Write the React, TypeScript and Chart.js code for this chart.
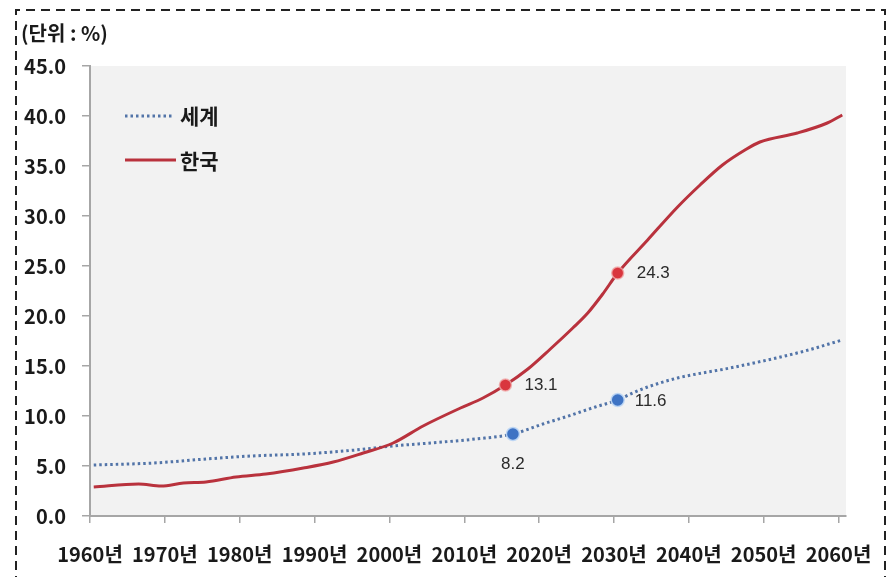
import React, { useEffect, useRef } from "react";
import { Chart, registerables } from "chart.js";

Chart.register(...registerables);

// ---- data ----
const koreaYears = [1960, 1966, 1969, 1972, 1975, 1979, 1983, 1988, 1992, 1996, 2000, 2004, 2009, 2012, 2015, 2018, 2021, 2024, 2026, 2028, 2030, 2034, 2038, 2041, 2044, 2047, 2049, 2054, 2058, 2060];
const koreaValues = [2.9, 3.2, 3.0, 3.3, 3.4, 3.9, 4.2, 4.8, 5.4, 6.3, 7.3, 9.0, 10.8, 11.8, 13.1, 14.7, 16.7, 18.8, 20.3, 22.2, 24.3, 27.6, 30.9, 33.1, 35.1, 36.6, 37.4, 38.3, 39.3, 40.1];

const worldYears = [1960, 1968, 1975, 1981, 1988, 1995, 2000, 2005, 2011, 2016, 2020, 2023, 2027, 2030, 2032, 2034, 2038, 2045, 2050, 2055, 2060];
const worldValues = [5.1, 5.3, 5.7, 6.0, 6.2, 6.6, 7.0, 7.3, 7.7, 8.2, 9.2, 9.9, 10.9, 11.6, 12.3, 12.9, 13.8, 14.8, 15.6, 16.5, 17.6];

const koreaMarkYears = [2015, 2030];
const koreaMarkValues = [13.1, 24.3];
const worldMarkYears = [2016, 2030];
const worldMarkValues = [8.2, 11.6];

const xTickYears = [1960, 1970, 1980, 1990, 2000, 2010, 2020, 2030, 2040, 2050, 2060];
const yTickValues = [0, 5, 10, 15, 20, 25, 30, 35, 40, 45];

const seriesNames = ["세계", "한국"];
const unitLabel = "(단위 : %)";

// ---- styles ----
const RED = "#b9323d";
const RED_MARK = "#d9363e";
const BLUE = "#5274a8";
const BLUE_MARK = "#3e73c4";
const KFONT = '"Noto Sans CJK KR", "Noto Sans", sans-serif';
const NFONT = '"Liberation Sans", Arial, sans-serif';

const toXY = (xs: number[], ys: number[]) => xs.map((x, i) => ({ x: x + 0.5, y: ys[i] }));

export default function App() {
  const ref = useRef<HTMLCanvasElement | null>(null);

  useEffect(() => {
    if (!ref.current) return;

    const decor = {
      id: "decor",
      beforeDraw(chart: any) {
        const { ctx, chartArea } = chart;
        ctx.save();
        ctx.fillStyle = "#ffffff";
        ctx.fillRect(0, 0, chart.width, chart.height);
        ctx.fillStyle = "#f2f2f2";
        ctx.fillRect(chartArea.left, chartArea.top, chartArea.right - chartArea.left, chartArea.bottom - chartArea.top);
        ctx.restore();
      },
      afterDatasetsDraw(chart: any) {
        const { ctx } = chart;
        ctx.save();
        ctx.fillStyle = "#2b2b2b";
        ctx.font = `17px ${NFONT}`;
        ctx.textBaseline = "middle";
        const km = chart.getDatasetMeta(2).data;
        km.forEach((p: any, i: number) => {
          ctx.textAlign = "left";
          ctx.fillText(koreaMarkValues[i].toFixed(1), p.x + 19, p.y);
        });
        const wm = chart.getDatasetMeta(3).data;
        wm.forEach((p: any, i: number) => {
          if (i === 0) {
            ctx.textAlign = "center";
            ctx.fillText(worldMarkValues[i].toFixed(1), p.x, p.y + 30);
          } else {
            ctx.textAlign = "left";
            ctx.fillText(worldMarkValues[i].toFixed(1), p.x + 17, p.y + 1);
          }
        });
        ctx.restore();
      },
      afterDraw(chart: any) {
        const { ctx } = chart;
        ctx.save();
        ctx.fillStyle = "#1a1a1a";
        ctx.font = `bold 20px ${KFONT}`;
        ctx.textAlign = "left";
        ctx.textBaseline = "middle";
        ctx.fillText(unitLabel, 21, 33);

        // legend
        ctx.lineWidth = 3;
        ctx.strokeStyle = BLUE;
        ctx.setLineDash([2.5, 3]);
        ctx.beginPath();
        ctx.moveTo(125, 116);
        ctx.lineTo(172, 116);
        ctx.stroke();
        ctx.setLineDash([]);
        ctx.strokeStyle = RED;
        ctx.beginPath();
        ctx.moveTo(125, 160);
        ctx.lineTo(176, 160);
        ctx.stroke();
        ctx.fillStyle = "#1a1a1a";
        ctx.font = `bold 21px ${KFONT}`;
        ctx.fillText(seriesNames[0], 180, 116);
        ctx.fillText(seriesNames[1], 180, 161);

        // dashed frame
        ctx.strokeStyle = "#222";
        ctx.lineWidth = 2;
        ctx.setLineDash([9, 6]);
        ctx.beginPath();
        ctx.moveTo(16, 600);
        ctx.lineTo(16, 10);
        ctx.lineTo(885, 10);
        ctx.lineTo(885, 600);
        ctx.stroke();
        ctx.restore();
      },
    };

    const chart = new Chart(ref.current, {
      type: "line",
      data: {
        datasets: [
          {
            label: seriesNames[0],
            data: toXY(worldYears, worldValues),
            borderColor: BLUE,
            borderWidth: 3,
            borderDash: [2.5, 3],
            pointRadius: 0,
            cubicInterpolationMode: "monotone",
            order: 2,
          },
          {
            label: seriesNames[1],
            data: toXY(koreaYears, koreaValues),
            borderColor: RED,
            borderWidth: 3,
            pointRadius: 0,
            cubicInterpolationMode: "monotone",
            order: 1,
          },
          {
            label: "korea-marks",
            data: toXY(koreaMarkYears, koreaMarkValues),
            showLine: false,
            pointRadius: 6,
            pointBackgroundColor: RED_MARK,
            pointBorderColor: "rgba(240,170,170,0.8)",
            pointBorderWidth: 1.5,
            order: 0,
          },
          {
            label: "world-marks",
            data: toXY(worldMarkYears, worldMarkValues),
            showLine: false,
            pointRadius: 6.5,
            pointBackgroundColor: BLUE_MARK,
            pointBorderColor: "rgba(190,215,245,0.9)",
            pointBorderWidth: 1.5,
            order: 0,
          },
        ],
      },
      options: {
        responsive: false,
        animation: false,
        events: [],
        layout: { padding: { left: 0, top: 66, right: 48, bottom: 0 } },
        plugins: { legend: { display: false }, tooltip: { enabled: false } },
        scales: {
          x: {
            type: "linear",
            min: 1960,
            max: 2061,
            afterFit: (s: any) => {
              s.height = 61;
            },
            afterBuildTicks: (s: any) => {
              s.ticks = xTickYears.map((v) => ({ value: v }));
            },
            grid: { drawOnChartArea: false, drawTicks: true, tickLength: 7, color: "#a6a6a6", lineWidth: 1.5 },
            border: { display: true, color: "#a6a6a6", width: 2 },
            ticks: {
              autoSkip: false,
              maxRotation: 0,
              padding: 19,
              color: "#1a1a1a",
              font: { family: KFONT, size: 20, weight: "bold" },
              callback: (v: any) => `${v}년`,
            },
          },
          y: {
            min: 0,
            max: 45,
            afterFit: (s: any) => {
              s.width = 90;
            },
            afterBuildTicks: (s: any) => {
              s.ticks = yTickValues.map((v) => ({ value: v }));
            },
            grid: { drawOnChartArea: false, drawTicks: true, tickLength: 8, color: "#a6a6a6", lineWidth: 1.5 },
            border: { display: true, color: "#a6a6a6", width: 2 },
            ticks: {
              padding: 16,
              color: "#1a1a1a",
              font: { family: KFONT, size: 20, weight: "bold" },
              callback: (v: any) => Number(v).toFixed(1),
            },
          },
        },
      },
      plugins: [decor],
    } as any);

    return () => chart.destroy();
  }, []);

  return (
    <div style={{ position: "absolute", left: 0, top: 0, width: 894, height: 577 }}>
      <canvas ref={ref} width={894} height={577} style={{ width: 894, height: 577, display: "block" }} />
    </div>
  );
}
